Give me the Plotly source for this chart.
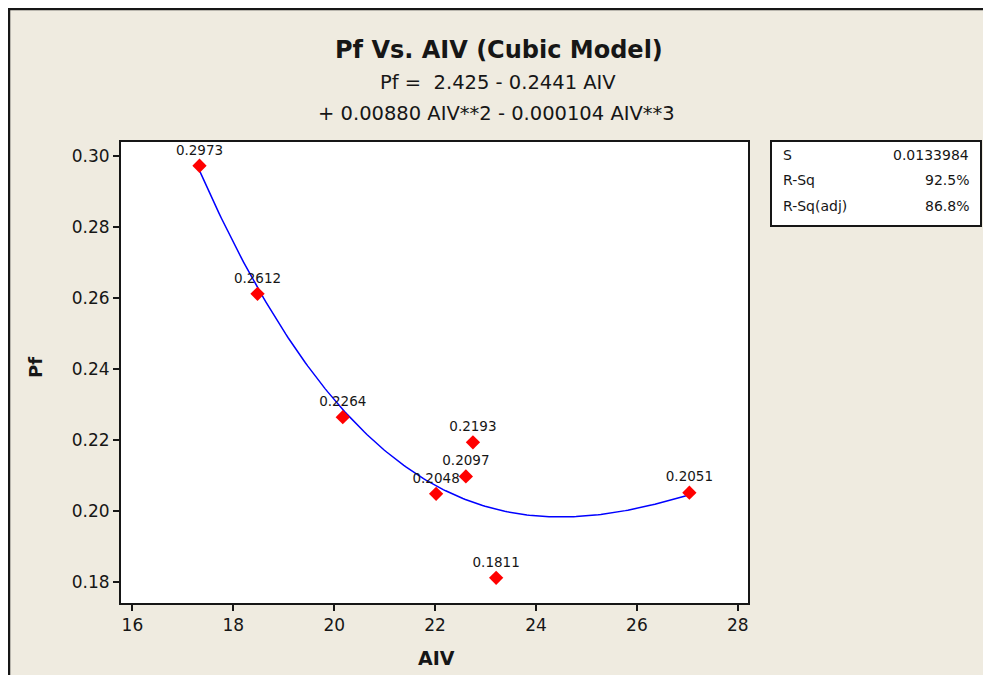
import plotly.graph_objects as go
import numpy as np

# Data
aiv = [17.33, 18.48, 20.17, 22.02, 22.61, 22.75, 23.21, 27.04]
pf = [0.2973, 0.2612, 0.2264, 0.2048, 0.2097, 0.2193, 0.1811, 0.2051]
point_labels = ["0.2973", "0.2612", "0.2264", "0.2048", "0.2097", "0.2193", "0.1811", "0.2051"]
stat_names = ["S", "R-Sq", "R-Sq(adj)"]
stat_values = ["0.0133984", "92.5%", "86.8%"]
x_ticks = [16, 18, 20, 22, 24, 26, 28]
y_ticks = [0.18, 0.20, 0.22, 0.24, 0.26, 0.28, 0.30]
title_text = "Pf Vs. AIV (Cubic Model)"
eq_line1 = "Pf =  2.425 - 0.2441 AIV"
eq_line2 = "+ 0.00880 AIV**2 - 0.000104 AIV**3"

# cubic regression fit of the data (the fitted line of the chart)
cf = np.polyfit(aiv, pf, 3)
xf = np.linspace(min(aiv), max(aiv), 200)
yf = np.polyval(cf, xf)

BG = "#EFEBE0"
FONT = "DejaVu Sans"
INK = "#161616"
OFF = 8  # page body margin

W, H = 991 - OFF, 675 - OFF
L, R, T, B = 121, 748, 142, 603  # plot area in screenshot pixels


def px_x(p):
    return (p - L) / (R - L)


def px_y(p):
    return (B - p) / (B - T)


fig = go.Figure()
fig.add_trace(go.Scatter(x=xf, y=yf, mode="lines", line=dict(color="#0000FF", width=1.5),
                         hoverinfo="skip", showlegend=False))
fig.add_trace(go.Scatter(x=aiv, y=pf, mode="markers+text", text=point_labels,
                         textposition="top center",
                         textfont=dict(family=FONT, size=13.5, color=INK),
                         marker=dict(symbol="diamond", size=11, color="#FF0000"),
                         showlegend=False))

fig.update_layout(
    width=W, height=H,
    paper_bgcolor=BG, plot_bgcolor="white",
    margin=dict(l=L - OFF, r=W - (R - OFF), t=T - OFF, b=H - (B - OFF), pad=0),
    font=dict(family=FONT, color=INK),
    xaxis=dict(range=[15.774, 28.202], tickvals=x_ticks, ticks="outside", ticklen=6,
               tickwidth=1.5, tickcolor=INK, showline=True, linecolor=INK, linewidth=2,
               mirror=True, showgrid=False, zeroline=False,
               tickfont=dict(family=FONT, size=17, color=INK)),
    yaxis=dict(range=[0.1740, 0.3040], tickvals=y_ticks, tickformat=".2f", ticks="outside",
               ticklen=6, tickwidth=1.5, tickcolor=INK, showline=True, linecolor=INK,
               linewidth=2, mirror=True, showgrid=False, zeroline=False,
               tickfont=dict(family=FONT, size=17, color=INK)),
)

# Axis titles
fig.add_annotation(text="<b>AIV</b>", xref="paper", yref="paper", x=px_x(436), y=px_y(658),
                   showarrow=False, font=dict(family=FONT, size=19, color=INK),
                   xanchor="center", yanchor="middle")
fig.add_annotation(text="<b>Pf</b>", xref="paper", yref="paper", x=px_x(35), y=px_y(367),
                   showarrow=False, textangle=-90, font=dict(family=FONT, size=18, color=INK),
                   xanchor="center", yanchor="middle")

# Titles
fig.add_annotation(text="<b>" + title_text + "</b>", xref="paper", yref="paper",
                   x=px_x(499), y=px_y(50), showarrow=False,
                   font=dict(family=FONT, size=24, color=INK), xanchor="center", yanchor="middle")
fig.add_annotation(text=eq_line1, xref="paper", yref="paper",
                   x=px_x(498), y=px_y(82), showarrow=False,
                   font=dict(family=FONT, size=19.5, color=INK), xanchor="center", yanchor="middle")
fig.add_annotation(text=eq_line2, xref="paper", yref="paper",
                   x=px_x(497), y=px_y(113), showarrow=False,
                   font=dict(family=FONT, size=19.5, color=INK), xanchor="center", yanchor="middle")

# Stats box
fig.add_shape(type="rect", xref="paper", yref="paper",
              x0=px_x(771), x1=px_x(981), y0=px_y(141), y1=px_y(226),
              fillcolor="white", line=dict(color=INK, width=2))
row_y = [155, 180, 206]
for name, val, ry in zip(stat_names, stat_values, row_y):
    fig.add_annotation(text=name, xref="paper", yref="paper", x=px_x(781), y=px_y(ry),
                       xanchor="left", yanchor="middle", showarrow=False,
                       font=dict(family=FONT, size=14, color=INK))
    fig.add_annotation(text=val, xref="paper", yref="paper", x=px_x(971), y=px_y(ry),
                       xanchor="right", yanchor="middle", showarrow=False,
                       font=dict(family=FONT, size=14, color=INK))

# Outer frame (left and top edges visible)
fig.add_shape(type="line", xref="paper", yref="paper", x0=px_x(9), x1=px_x(9),
              y0=px_y(5), y1=px_y(690), line=dict(color=INK, width=2.5))
fig.add_shape(type="line", xref="paper", yref="paper", x0=px_x(8), x1=px_x(1000),
              y0=px_y(9), y1=px_y(9), line=dict(color=INK, width=2.5))

fig.write_html("out.html")
